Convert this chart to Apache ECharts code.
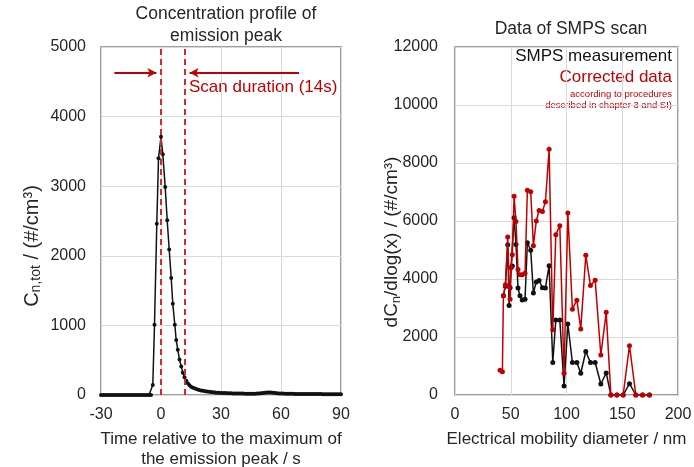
<!DOCTYPE html>
<html>
<head>
<meta charset="utf-8">
<script src="https://cdn.jsdelivr.net/npm/echarts@6/dist/echarts.min.js"></script>
<style>
  html, body { margin: 0; padding: 0; background: #ffffff; }
  #chart { width: 694px; height: 467px; }
</style>
</head>
<body>
<div id="chart"></div>
<script>
// Concentration profile of the emission peak (time in s, Cn,tot in #/cm3)
const peakTime = [
  -30, -29, -28, -27, -26, -25, -24, -23, -22, -21, -20, -19, -18, -17, -16, -15, -14, -13, -12, -11, -10, -9, -8, -7, -6, -5,
  -4.1, -3.25, -2.1, -1.25, 0, 0.9, 2.1, 3.1, 4.1, 5.1, 5.9, 6.9, 7.6, 8.4, 9.25, 10.1, 10.9, 11.75, 12.6, 13.4, 14.25,
  15, 16, 17, 18, 19, 20, 21, 22, 23, 24, 25, 26, 27, 28, 29, 30, 31, 32, 33, 34, 35, 36, 37, 38, 39, 40,
  41, 42, 43, 44, 45, 46, 47, 48, 49, 50, 51, 52, 53, 54, 55, 56, 57, 58, 59, 60, 61, 62, 63, 64, 65,
  66, 67, 68, 69, 70, 71, 72, 73, 74, 75, 76, 77, 78, 79, 80, 81, 82, 83, 84, 85, 86, 87, 88, 89, 90
];
const peakConc = [
  0, 0, 0, 0, 0, 0, 0, 0, 0, 0, 0, 0, 0, 0, 0, 0, 0, 0, 0, 0, 0, 0, 0, 0, 0, 0,
  144, 1008, 2460, 3400, 3710, 3460, 2990, 2510, 2090, 1680, 1310, 1010, 790, 650, 510, 410, 320, 255, 205, 170, 140,
  120, 105, 92, 82, 73, 66, 60, 55, 50, 46, 42, 39, 36, 34, 32, 30, 28, 27, 26, 25, 24, 23, 22, 22, 21, 20,
  20, 19, 19, 18, 18, 18, 19, 20, 22, 25, 28, 32, 35, 37, 36, 33, 29, 26, 23, 21, 20, 19, 18, 18, 17,
  17, 16, 16, 16, 15, 15, 15, 14, 14, 14, 14, 13, 13, 13, 13, 12, 12, 12, 12, 12, 11, 11, 11, 11, 11
];
const scanStart = 0;   // s, start of the SMPS scan
const scanEnd = 12;    // s, end marker of the SMPS scan

// SMPS scan: electrical mobility diameter (nm) and dCn/dlog(x) (#/cm3)
const diameter = [
  40.4, 42.5, 43.4, 45.2, 47.3, 48.5, 49.4, 50.3, 51.4, 53.0, 54.7, 56.5, 58.3, 60.3, 62.8,
  64.9, 67.9, 70.3, 72.9, 75.4, 78.4, 81.1, 84.4, 87.7, 90.4, 94.0, 97.8, 101.2, 105.3, 109.3,
  112.8, 117.3, 121.5, 125.7, 130.8, 135.6, 139.8, 145.2, 150.8, 156.5, 162.2, 168.2, 174.4
];
const smpsMeasured = [
  null, null, 3420, 3750, 5180, 3090, 3700, 4400, 4450, 6110, 5190, 3690, 3420, 3280, 3300,
  5250, 4990, 3520, 3900, 3950, 3700, 3690, 4460, 1120, 2590, 2590, 310, 2450, 1120, 1120,
  750, 1500, 1120, 1120, 380, 760, 0, 0, 0, 390, 0, 0, 0
];
const smpsCorrected = [
  850, 800, 3420, 3800, 5450, 3750, 3300, 4400, 4840, 6850, 5980, 4330, 4150, 4150, 4200,
  7060, 7010, 5150, 6000, 6360, 6330, 6660, 8470, 2250, 5530, 5840, 750, 6280, 2960, 3270,
  2280, 4820, 3780, 3960, 1380, 2850, 0, 0, 0, 1700, 0, 0, 0
];

const timeTicks = { min: -30, max: 90, step: 30 };
const concTicks = { min: 0, max: 5000, step: 1000 };
const diamTicks = { min: 0, max: 200, step: 50 };
const distTicks = { min: 0, max: 12000, step: 2000 };

const RED = '#c00000';
const DASH_RED = '#d02a2a';
const TXT = '#262626';
const FONT = '"Liberation Sans", Arial, sans-serif';

const chart = echarts.init(document.getElementById('chart'), null, { renderer: 'canvas' });

function pairs(xs, ys) {
  return xs.map((x, i) => [x, ys[i]]);
}

function plainNumber(v) {
  return String(v);
}

const splitStyle = { show: true, lineStyle: { color: '#d9d9d9', width: 1 } };
const labelStyle = { color: TXT, fontSize: 16, fontFamily: FONT, formatter: plainNumber };

function valueAxis(extra) {
  return Object.assign({
    type: 'value',
    axisLine: { show: false },
    axisTick: { show: false },
    splitLine: splitStyle,
    nameMoveOverlap: false
  }, extra);
}

function subRich(size, subSize) {
  return {
    a: { fontSize: size, fill: TXT, fontFamily: FONT },
    s: { fontSize: subSize, fill: TXT, fontFamily: FONT, verticalAlign: 'bottom', padding: [Math.round(size * 0.45), 0, 0, 0] }
  };
}

const gridCommon = {
  top: 47, bottom: 72, show: true,
  borderColor: '#7f7f7f', borderWidth: 1.5, backgroundColor: 'transparent',
  containLabel: false, outerBoundsMode: 'none'
};

const option = {
  animation: false,
  backgroundColor: '#ffffff',
  title: [
    {
      text: 'Concentration profile of\nemission peak',
      left: 221, top: -2, textAlign: 'center',
      textStyle: { color: TXT, fontSize: 17.5, fontWeight: 'normal', fontFamily: FONT, lineHeight: 22 }
    },
    {
      text: 'Data of SMPS scan',
      left: 566, top: 15, textAlign: 'center',
      textStyle: { color: TXT, fontSize: 17.5, fontWeight: 'normal', fontFamily: FONT }
    }
  ],
  grid: [
    Object.assign({ left: 101, right: 353 }, gridCommon),
    Object.assign({ left: 455, right: 16 }, gridCommon)
  ],
  xAxis: [
    valueAxis({
      gridIndex: 0, min: timeTicks.min, max: timeTicks.max, interval: timeTicks.step,
      axisLabel: Object.assign({}, labelStyle, { margin: 12 }),
      name: 'Time relative to the maximum of\nthe emission peak / s',
      nameLocation: 'middle', nameGap: 34,
      nameTextStyle: { color: TXT, fontSize: 17, fontFamily: FONT, lineHeight: 20, verticalAlign: 'top' }
    }),
    valueAxis({
      gridIndex: 1, min: diamTicks.min, max: diamTicks.max, interval: diamTicks.step,
      axisLabel: Object.assign({}, labelStyle, { margin: 12 }),
      name: 'Electrical mobility diameter / nm',
      nameLocation: 'middle', nameGap: 34,
      nameTextStyle: { color: TXT, fontSize: 17, fontFamily: FONT, lineHeight: 20, verticalAlign: 'top' }
    })
  ],
  yAxis: [
    valueAxis({
      gridIndex: 0, min: concTicks.min, max: concTicks.max, interval: concTicks.step,
      axisLabel: Object.assign({}, labelStyle, { margin: 15 })
    }),
    valueAxis({
      gridIndex: 1, min: distTicks.min, max: distTicks.max, interval: distTicks.step,
      axisLabel: Object.assign({}, labelStyle, { margin: 17 })
    })
  ],
  series: [
    {
      name: 'Concentration profile',
      type: 'line', xAxisIndex: 0, yAxisIndex: 0,
      data: pairs(peakTime, peakConc),
      symbol: 'circle', symbolSize: 4, showSymbol: true,
      lineStyle: { color: '#111111', width: 1.5 },
      itemStyle: { color: '#111111' },
      markLine: {
        silent: true, symbol: 'none', label: { show: false },
        lineStyle: { color: DASH_RED, type: [6, 4], width: 2 },
        data: [{ xAxis: scanStart }, { xAxis: scanEnd }]
      },
      z: 3
    },
    {
      name: 'Scan arrows',
      type: 'line', xAxisIndex: 0, yAxisIndex: 0, data: [],
      markLine: {
        silent: true, label: { show: false },
        symbol: ['none', 'arrow'], symbolSize: [7, 9],
        lineStyle: { color: RED, type: 'solid', width: 2 },
        data: [
          [{ coord: [-23.3, 4630] }, { coord: [-2.3, 4630] }],
          [{ coord: [69, 4630] }, { coord: [14.3, 4630] }]
        ]
      }
    },
    {
      name: 'SMPS measurement',
      type: 'line', xAxisIndex: 1, yAxisIndex: 1,
      data: pairs(diameter, smpsMeasured),
      symbol: 'circle', symbolSize: 5,
      lineStyle: { color: '#111111', width: 1.5 },
      itemStyle: { color: '#111111' },
      z: 3
    },
    {
      name: 'Corrected data',
      type: 'line', xAxisIndex: 1, yAxisIndex: 1,
      data: pairs(diameter, smpsCorrected),
      symbol: 'circle', symbolSize: 5,
      lineStyle: { color: RED, width: 1.5 },
      itemStyle: { color: RED },
      z: 4
    }
  ],
  graphic: [
    // vertical axis titles
    {
      type: 'text', x: 32, y: 246, rotation: Math.PI / 2,
      style: {
        text: '{a|C}{s|n,tot}{a| / (#/cm³)}', rich: subRich(20, 14),
        align: 'center', verticalAlign: 'middle', fill: TXT
      }
    },
    {
      type: 'text', x: 392, y: 242, rotation: Math.PI / 2,
      style: {
        text: '{a|dC}{s|n}{a|/dlog(x) / (#/cm³)}', rich: subRich(19, 13),
        align: 'center', verticalAlign: 'middle', fill: TXT
      }
    },
    {
      type: 'text', left: 189, top: 79,
      style: { text: 'Scan duration (14s)', fill: RED, font: '17px ' + FONT }
    },
    {
      type: 'text', right: 22, top: 48,
      style: { text: 'SMPS measurement', fill: '#111111', font: '17px ' + FONT }
    },
    {
      type: 'text', right: 22, top: 69,
      style: { text: 'Corrected data', fill: RED, font: '17px ' + FONT }
    },
    {
      type: 'text', right: 22, top: 89,
      style: { text: 'according to procedures', fill: RED, font: '9.5px ' + FONT }
    },
    {
      type: 'text', right: 22, top: 100,
      style: { text: 'described in chapter 3 and SI)', fill: RED, font: '9.5px ' + FONT }
    }
  ]
};

chart.setOption(option);
</script>
</body>
</html>
